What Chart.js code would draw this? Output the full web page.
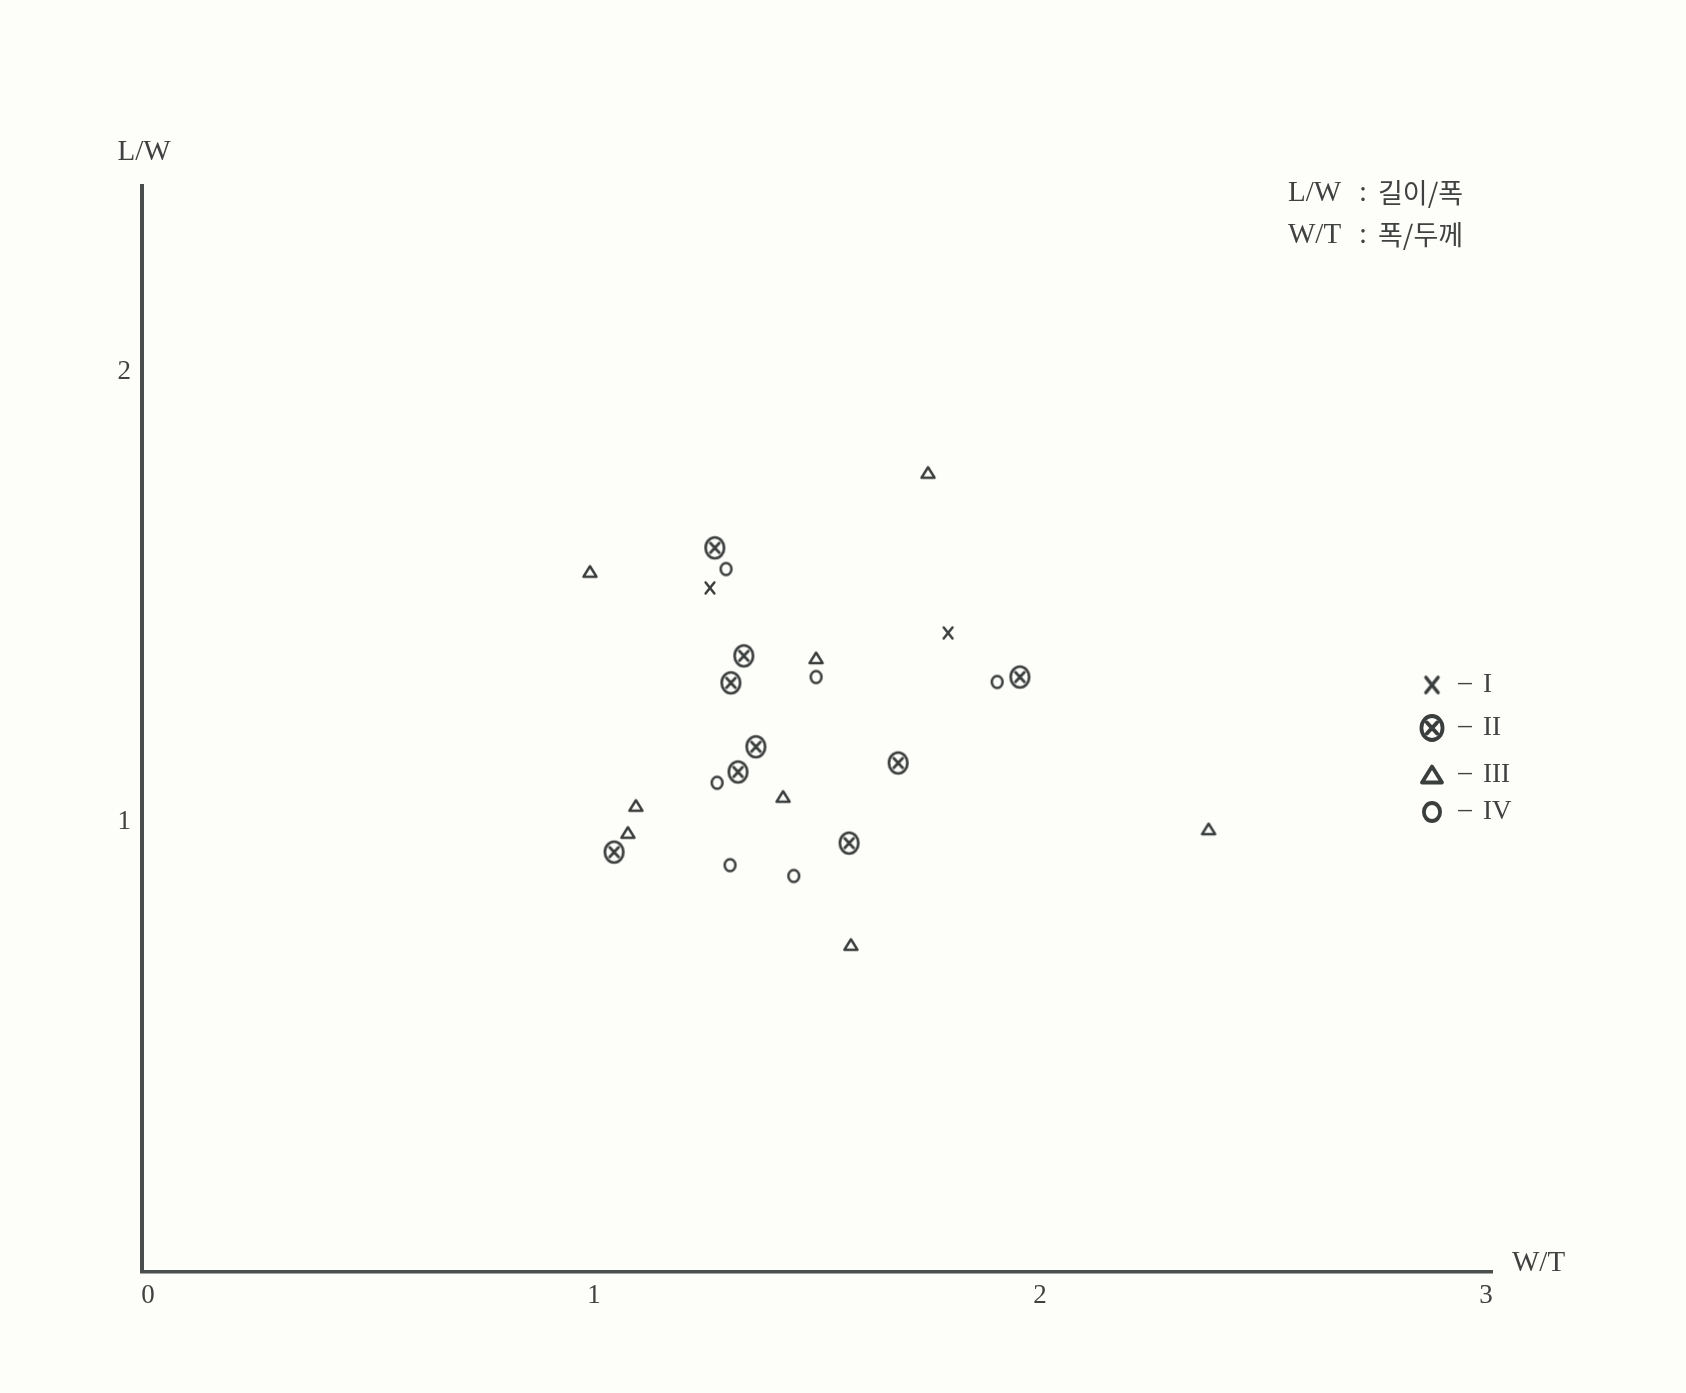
<!DOCTYPE html>
<html>
<head>
<meta charset="utf-8">
<script src="https://cdn.jsdelivr.net/npm/chart.js@4.4.1/dist/chart.umd.min.js"></script>
<style>
  html, body { margin: 0; padding: 0; background: #fdfdfa; }
  #wrap { width: 1686px; height: 1393px; position: relative; }
</style>
</head>
<body>
<div id="wrap"><canvas id="plot"></canvas></div>
<script>
const INK = "#3a3e3d";
const TEXT = "#3f4241";
const SERIF = "'Liberation Serif', 'DejaVu Serif', serif";

const xTicks = [0, 1, 2, 3];
const yTicks = [1, 2];
const seriesNames = ["I", "II", "III", "IV"];

// W/T (x) and L/W (y) per group
const wtI = [1.260, 1.794];
const lwI = [1.520, 1.420];

const wtII = [1.271, 1.336, 1.307, 1.955, 1.363, 1.323, 1.682, 1.045, 1.572];
const lwII = [1.609, 1.369, 1.309, 1.322, 1.167, 1.111, 1.131, 0.933, 0.953];

const wtIII = [1.749, 0.991, 1.498, 1.094, 1.424, 1.076, 2.378, 1.576];
const lwIII = [1.776, 1.556, 1.364, 1.036, 1.056, 0.976, 0.984, 0.727];

const wtIV = [1.296, 1.498, 1.904, 1.276, 1.305, 1.448];
const lwIV = [1.562, 1.322, 1.311, 1.087, 0.904, 0.880];

function pts(xs, ys) {
  return xs.map((x, i) => ({ x, y: ys[i] }));
}

// hand-drawn-ish markers as little canvases
function marker(kind, size, lw) {
  const c = document.createElement("canvas");
  c.width = c.height = Math.ceil(size + lw * 2 + 2);
  const g = c.getContext("2d");
  const m = c.width / 2;
  const r = size / 2;
  g.strokeStyle = INK;
  g.lineWidth = lw;
  g.lineCap = "round";
  g.lineJoin = "round";
  g.beginPath();
  if (kind === "x") {
    g.moveTo(m - r * 0.8, m - r); g.lineTo(m + r * 0.8, m + r);
    g.moveTo(m + r * 0.8, m - r); g.lineTo(m - r * 0.8, m + r);
  } else if (kind === "cx") {
    g.ellipse(m, m, r * 0.88, r, 0, 0, Math.PI * 2);
    g.moveTo(m - r * 0.42, m - r * 0.45); g.lineTo(m + r * 0.42, m + r * 0.45);
    g.moveTo(m + r * 0.42, m - r * 0.45); g.lineTo(m - r * 0.42, m + r * 0.45);
  } else if (kind === "tri") {
    g.moveTo(m, m - r * 0.85);
    g.lineTo(m + r, m + r * 0.75);
    g.lineTo(m - r, m + r * 0.75);
    g.closePath();
  } else {
    g.ellipse(m, m, r * 0.9, r, 0, 0, Math.PI * 2);
  }
  g.stroke();
  return c;
}

const plotMarks = [marker("x", 11, 2.5), marker("cx", 21, 2.7), marker("tri", 13, 2.5), marker("o", 12, 2.5)];
const legendMarks = [marker("x", 15, 3.6), marker("cx", 24, 3.8), marker("tri", 20, 3.8), marker("o", 18, 3.8)];

const decor = {
  id: "decor",
  beforeDraw(chart) {
    const ctx = chart.ctx;
    ctx.save();
    ctx.fillStyle = "#fdfdfa";
    ctx.fillRect(0, 0, chart.width, chart.height);
    ctx.restore();
  },
  afterDraw(chart) {
    const ctx = chart.ctx;
    const a = chart.chartArea;
    ctx.save();
    ctx.fillStyle = TEXT;
    ctx.textBaseline = "middle";

    // axis titles
    ctx.font = "29px " + SERIF;
    ctx.textAlign = "center";
    ctx.fillText("L/W", a.left + 2, a.top - 34);
    ctx.textAlign = "left";
    ctx.fillText("W/T", a.right + 20, a.bottom - 9);

    // abbreviation note, top right
    const nx = a.right - 204;
    ctx.font = "29px " + SERIF;
    ctx.fillText("L/W", nx, a.top + 7);
    ctx.fillText("W/T", nx, a.top + 49);
    ctx.textAlign = "center";
    ctx.fillText(":", nx + 75, a.top + 7);
    ctx.fillText(":", nx + 75, a.top + 49);
    ctx.textAlign = "left";
    ctx.font = "27px 'Noto Sans CJK KR', sans-serif";
    ctx.fillText("길이/폭", nx + 90, a.top + 7);
    ctx.fillText("폭/두께", nx + 90, a.top + 49);

    // group legend
    const lx = a.right - 60;
    const rows = [a.top + 499, a.top + 542, a.top + 589, a.top + 626];
    chart.data.datasets.forEach((ds, i) => {
      const img = legendMarks[i];
      ctx.drawImage(img, lx - img.width / 2, rows[i] - img.height / 2);
      ctx.font = "27px " + SERIF;
      ctx.textAlign = "center";
      ctx.fillText("–", lx + 33, rows[i] - 2);
      ctx.textAlign = "left";
      ctx.fillText(ds.label, lx + 51, rows[i]);
    });
    ctx.restore();
  }
};

const axisFont = { family: SERIF, size: 27 };

new Chart(document.getElementById("plot"), {
  type: "scatter",
  data: {
    datasets: [
      { label: seriesNames[0], data: pts(wtI, lwI), pointStyle: plotMarks[0] },
      { label: seriesNames[1], data: pts(wtII, lwII), pointStyle: plotMarks[1] },
      { label: seriesNames[2], data: pts(wtIII, lwIII), pointStyle: plotMarks[2] },
      { label: seriesNames[3], data: pts(wtIV, lwIV), pointStyle: plotMarks[3] }
    ].map((d) => Object.assign(d, { pointRadius: 6, pointHoverRadius: 6 }))
  },
  options: {
    responsive: true,
    maintainAspectRatio: false,
    animation: false,
    events: [],
    layout: { padding: { left: 0, top: 186, right: 194, bottom: 0 } },
    plugins: { legend: { display: false }, tooltip: { enabled: false } },
    scales: {
      x: {
        type: "linear",
        min: -0.0135,
        max: 3.0135,
        afterBuildTicks: (s) => { s.ticks = xTicks.map((v) => ({ value: v })); },
        afterFit: (s) => { s.height = 121; },
        grid: { display: false, drawTicks: false },
        border: { display: true, color: "#4a4e4d", width: 3.5 },
        ticks: { color: TEXT, font: axisFont, padding: 8, maxRotation: 0 }
      },
      y: {
        type: "linear",
        min: 0,
        max: 2.413,
        afterBuildTicks: (s) => { s.ticks = yTicks.map((v) => ({ value: v })); },
        afterFit: (s) => { s.width = 142; },
        grid: { display: false, drawTicks: false },
        border: { display: true, color: "#4a4e4d", width: 4 },
        ticks: { color: TEXT, font: axisFont, padding: 11 }
      }
    }
  },
  plugins: [decor]
});
</script>
</body>
</html>
